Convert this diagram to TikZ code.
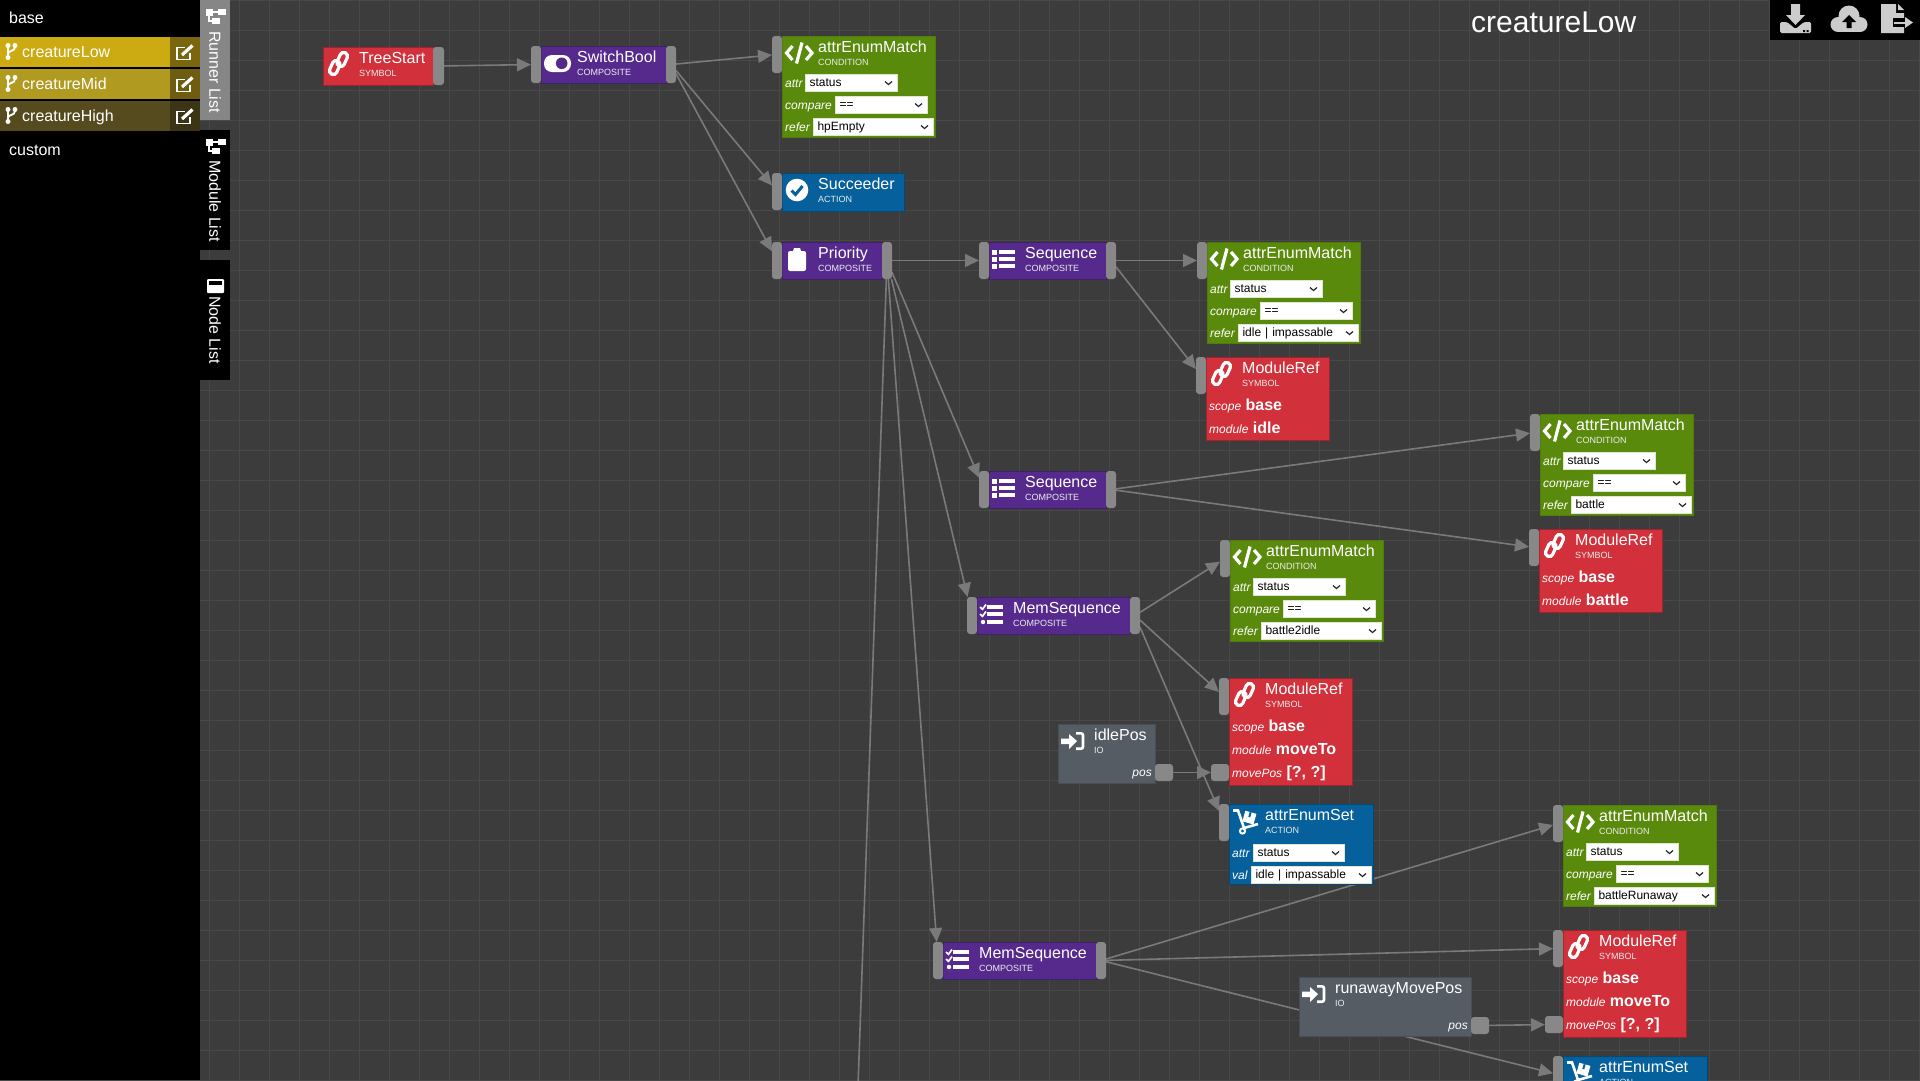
\documentclass[tikz,border=0pt]{standalone}
\usepackage{fontspec}
\setmainfont{Liberation Sans}
\usetikzlibrary{arrows.meta}
\pgfdeclarelayer{backdrop}
\pgfdeclarelayer{wires}
\pgfsetlayers{backdrop,wires,main}
\definecolor{canvasbg}{HTML}{3C3C3C}
\definecolor{gridcol}{HTML}{484848}
\definecolor{portcol}{HTML}{888888}
\definecolor{symred}{HTML}{D2303A}
\definecolor{condgreen}{HTML}{5A8A0C}
\definecolor{actblue}{HTML}{06609C}
\definecolor{comppurple}{HTML}{552A8C}
\definecolor{iogrey}{HTML}{555C64}
\definecolor{toolcol}{HTML}{CCCCCC}
\definecolor{rowlow}{HTML}{CCAA12}
\definecolor{rowlowedit}{HTML}{7A660F}
\definecolor{rowmid}{HTML}{B19A20}
\definecolor{rowmidedit}{HTML}{6E5C10}
\definecolor{rowhigh}{HTML}{554B1E}
\definecolor{rowhighedit}{HTML}{3C3515}
\newcommand{\px}[1]{\fontsize{#1}{#1}\selectfont}
\tikzset{
  body/.style={rectangle,anchor=north west,inner sep=0pt,outer sep=0pt,line width=1pt},
  nsym/.style={body,fill=symred,draw=symred!75!black},
  ncond/.style={body,fill=condgreen,draw=condgreen!90!black},
  nact/.style={body,fill=actblue,draw=actblue!75!black},
  ncomp/.style={body,fill=comppurple,draw=comppurple!75!black},
  nio/.style={body,fill=iogrey,draw=iogrey!85!black},
  titletext/.style={anchor=base west,inner sep=0pt,text=white,font=\px{16}},
  kindtext/.style={anchor=base west,inner sep=0pt,text=white!85!gray,font=\px{9}},
  fieldtext/.style={anchor=base west,inner sep=0pt,text=white,font=\itshape\px{12}},
  valuetext/.style={anchor=base west,inner sep=0pt,text=white,font=\bfseries\px{16}},
  selbox/.style={rectangle,anchor=north west,fill=white,draw=white!80!condgreen,line width=.8pt,
    inner xsep=4.5pt,inner ysep=0pt,outer sep=0pt,minimum height=17pt,align=left,
    text height=10pt,text depth=1.5pt,text=black,font=\px{12}},
  selmark/.style={draw=black!85,line width=1.2pt},
  portbox/.style={rectangle,fill=portcol,inner sep=0pt,outer sep=0pt,rounded corners=3pt},
  wire/.style={draw=portcol!90!black,line width=1.6pt,-{Triangle[length=14pt,width=13pt]}},
  sidetext/.style={anchor=base west,inner sep=0pt,text=white,font=\px{16}},
  iconline/.style={draw=white,line width=3.2pt},
  iconlink/.pic={
    \begin{scope}[shift={(15.5,16.5)},rotate=66]
      \draw[iconline,line width=3.2pt,rounded corners=3.6pt] (-12.5,-5.6) rectangle (2,2);
      \draw[iconline,line width=3.2pt,rounded corners=3.6pt] (-2,-2) rectangle (12.5,5.6);
    \end{scope}},
  iconcode/.pic={
    \draw[iconline,miter limit=4] (10.5,10) -- (4.5,17) -- (10.5,24);
    \draw[iconline,miter limit=4] (24,10) -- (30,17) -- (24,24);
    \draw[iconline] (20,6.5) -- (14.5,27.5);},
  iconcheck/.pic={
    \fill[white] (15,17) circle (11.3);
    \draw[draw=actblue,line width=3pt] (9.5,17.5) -- (13.5,21.5) -- (20.5,13);},
  icontoggle/.pic={
    \fill[white,rounded corners=8pt] (3,9) rectangle (30,26);
    \fill[comppurple] (20.7,17.3) circle (5.8);},
  iconclip/.pic={
    \fill[white,rounded corners=2pt] (6,9) rectangle (24,29);
    \fill[white] (11,9) -- (12,6) -- (18,6) -- (19,9) -- cycle;},
  iconlist/.pic={
    \foreach \ry in {10,17,24}{
      \fill[white] (3,\ry-2.5) rectangle ++(5,5);
      \fill[white] (9.5,\ry-1.7) rectangle ++(16.5,3.4);}},
  iconchecks/.pic={
    \foreach \ry in {10,17}{
      \draw[draw=white,line width=1.7pt] (3,\ry) -- (5.5,\ry+2.3) -- (9,\ry-2.5);
      \fill[white] (10,\ry-1.7) rectangle ++(16,3.4);}
    \fill[white] (6,25) circle (2.2);
    \fill[white] (10,23.3) rectangle ++(16,3.4);},
  iconin/.pic={
    \fill[white] (3,14.5) -- (11,14.5) -- (11,10) -- (19,17) -- (11,25) -- (11,20) -- (3,20) -- cycle;
    \draw[draw=white,line width=2.6pt,rounded corners=2pt] (18,9.3) -- (25,9.3) -- (25,24.7) -- (18,24.7);},
  icondolly/.pic={
    \draw[draw=white,line width=2.6pt] (4,6.5) -- (9,6.5) -- (15,24) -- (29,20);
    \fill[white,rotate around={-16:(20,14)}] (14.5,8) rectangle (26,19);
    \fill[actblue,rotate around={-16:(20,14)}] (19,8) rectangle (21,13);
    \draw[draw=white,line width=2pt,fill=actblue] (13.5,27) circle (2.6);},
  iconsitemap/.pic={
    \fill[white] (6,9) rectangle (13,16);
    \fill[white] (18,9) rectangle (26,15);
    \fill[white] (12,18) rectangle (20,24);
    \draw[draw=white,line width=1.6pt] (9,15) -- (9,21) -- (13,21);
    \draw[draw=white,line width=1.6pt] (13,12) -- (18,12);},
  iconwindow/.pic={
    \fill[white,rounded corners=1pt] (7,19) rectangle (24,33);
    \fill[black] (9,21) rectangle (22,25);},
  iconbranch/.pic={
    \draw[draw=white,line width=1.8pt] (8,10) -- (8,21);
    \draw[draw=white,line width=1.8pt] (15,11) .. controls (15,16) and (8,14) .. (8,18);
    \fill[white] (8,9.5) circle (2.5) (15,9.5) circle (2.5) (8,21.5) circle (2.5);},
  iconedit/.pic={
    \draw[draw=white,line width=1.8pt] (20,16) -- (20,22.5) -- (7,22.5) -- (7,10.5) -- (15,10.5);
    \draw[draw=white,line width=3.2pt] (12,18) -- (22.5,8.5);}
}
\newcommand{\bthead}[9]{%
  \node[#6,minimum width=#4pt,minimum height=#5pt] (#1) at (#2,#3) {};
  \pic at (#1.north west) {#7};
  \node[titletext] (#1-title) at ([shift={(36,16)}]#1.north west) {#8};
  \node[kindtext] (#1-kind) at ([shift={(36,29)}]#1.north west) {#9};
}
\newcommand{\inport}[1]{\node[portbox,anchor=north east,minimum width=10pt,minimum height=37pt] (#1-in) at (#1.north west) {};}
\newcommand{\outport}[1]{\node[portbox,anchor=north west,minimum width=10pt,minimum height=37pt] (#1-out) at (#1.north east) {};}
\newcommand{\selfield}[7]{%
  \node[fieldtext] (#1-#2-name) at ([shift={(3,#5+13)}]#1.north west) {#3};
  \node[selbox,text width=#6pt-9pt] (#1-#2) at ([shift={(#4,#5)}]#1.north west) {#7};
  \draw[selmark] ([shift={(-12,-1)}]#1-#2.east) -- ++(3.5,3) -- ++(3.5,-3);
}
\newcommand{\valfield}[5]{%
  \node[fieldtext] (#1-#2-name) at ([shift={(3,#3)}]#1.north west) {#4};
  \node[valuetext] (#1-#2) at ([xshift=4pt]#1-#2-name.base east) {#5};
}
\newcommand{\matchnode}[4]{%
  \bthead{#1}{#2}{#3}{153}{101}{ncond}{iconcode}{attrEnumMatch}{CONDITION}
  \inport{#1}
  \selfield{#1}{attr}{attr}{23}{38}{92}{status}
  \selfield{#1}{compare}{compare}{53}{60}{92}{==}
  \selfield{#1}{refer}{refer}{31}{82}{120}{#4}
}
\newcommand{\setnode}[4]{%
  \bthead{#1}{#2}{#3}{144}{80}{nact}{icondolly}{attrEnumSet}{ACTION}
  \inport{#1}
  \selfield{#1}{attr}{attr}{24}{40}{91}{status}
  \selfield{#1}{val}{val}{22}{62}{120}{#4}
}
\newcommand{\refnode}[5]{%
  \bthead{#1}{#2}{#3}{123}{#5}{nsym}{iconlink}{ModuleRef}{SYMBOL}
  \inport{#1}
  \valfield{#1}{scope}{53}{scope}{base}
  \valfield{#1}{module}{76}{module}{#4}
}
\newcommand{\moveport}[1]{%
  \valfield{#1}{movepos}{99}{movePos}{[?, ?]}
  \node[portbox,anchor=north east,minimum width=18pt,minimum height=17pt] (#1-pos) at ([yshift=-86pt]#1.north west) {};
}
\newcommand{\ionode}[5]{%
  \bthead{#1}{#2}{#3}{#4}{59}{nio}{iconin}{#5}{IO}
  \node[fieldtext,anchor=base east] (#1-posname) at ([shift={(-3,52)}]#1.north east) {pos};
  \node[portbox,anchor=north west,minimum width=18pt,minimum height=17pt] (#1-pos) at ([yshift=-40pt]#1.north east) {};
}
\newcommand{\compnode}[7]{%
  \bthead{#1}{#2}{#3}{#4}{37}{ncomp}{#5}{#6}{#7}
  \inport{#1}
  \outport{#1}
}
\newcommand{\runneritem}[5]{%
  \node[body,fill=#3,minimum width=170pt,minimum height=30pt] (#1) at (0,#2) {};
  \node[body,fill=#4,minimum width=30pt,minimum height=30pt] (#1-edit) at (170,#2) {};
  \pic at (0,#2-1) {iconbranch};
  \pic at (170,#2) {iconedit};
  \node[sidetext] (#1-text) at (22,#2+20.5) {#5};
}
\newcommand{\sidetab}[6]{%
  \node[body,fill=#3,minimum width=30pt,minimum height=120pt] (#1) at (200,#2) {};
  \pic at (#1.north west) {#5};
  \node[anchor=west,rotate=-90,inner sep=0pt,text=white,font=\px{16}] (#1-text) at (215,#2+#4) {#6};
}
\begin{document}
\begin{tikzpicture}[x=1pt,y=-1pt]
  \path[use as bounding box,clip] (0,0) rectangle (1920,1080);
  \begin{pgfonlayer}{backdrop}
    \fill[canvasbg] (0,0) rectangle (1920,1080);
    \foreach \gx in {29.5,59.5,...,1919.5} \draw[gridcol,line width=1pt] (\gx,0) -- (\gx,1080);
    \foreach \gy in {0.5,30.5,...,1080.5} \draw[gridcol,line width=1pt] (0,\gy) -- (1920,\gy);
  \end{pgfonlayer}
  \node[body,fill=black,minimum width=200pt,minimum height=1080pt] (sidebar) at (0,0) {};
  \node[sidetext] (basehead) at (9,23) {base};
  \runneritem{runlow}{37}{rowlow}{rowlowedit}{creatureLow}
  \runneritem{runmid}{69}{rowmid}{rowmidedit}{creatureMid}
  \runneritem{runhigh}{101}{rowhigh}{rowhighedit}{creatureHigh}
  \node[sidetext] (customhead) at (9,155) {custom};
  \sidetab{runnertab}{0}{gray!95}{31}{iconsitemap}{Runner List}
  \sidetab{moduletab}{130}{black}{30}{iconsitemap}{Module List}
  \sidetab{nodetab}{260}{black}{36}{iconwindow}{Node List}
  \node[anchor=base west,inner sep=0pt,text=white,font=\px{30}] (treename) at (1471,32) {creatureLow};
  \node[body,fill=black,minimum width=150pt,minimum height=40pt] (toolbar) at (1770,0) {};
  \fill[toolcol] (1791,4) rectangle (1800,15) -- (1805,15) -- (1795.5,25) -- (1786,15) -- (1791,15);
  \fill[toolcol,rounded corners=1.5pt] (1780,22) -- (1787,22) -- (1795.5,29) -- (1804,22) -- (1811,22) -- (1811,33) -- (1780,33) -- cycle;
  \fill[black] (1803,30) rectangle ++(2,2) (1806.5,30) rectangle ++(2,2);
  \fill[toolcol] (1849,16) circle (10.5);
  \fill[toolcol] (1838,24.5) circle (7.5);
  \fill[toolcol] (1860,24.5) circle (7.5);
  \fill[toolcol] (1838,21) rectangle (1860,32);
  \fill[black] (1849,15) -- (1856,22) -- (1851.5,22) -- (1851.5,28) -- (1846.5,28) -- (1846.5,22) -- (1842,22) -- cycle;
  \fill[toolcol] (1881,4) -- (1896,4) -- (1896,13) -- (1904,13) -- (1904,33) -- (1881,33) -- cycle;
  \fill[toolcol] (1898,4) -- (1904,10) -- (1898,10) -- cycle;
  \fill[black] (1893,18) rectangle (1906,27);
  \fill[toolcol] (1894,21.5) rectangle (1906,23.5);
  \fill[toolcol] (1905,17) -- (1913,22.5) -- (1905,28) -- cycle;
  \bthead{treestart}{323}{47}{110}{38}{nsym}{iconlink}{TreeStart}{SYMBOL}
  \node[portbox,anchor=north west,minimum width=11pt,minimum height=38pt] (treestart-out) at (treestart.north east) {};
  \compnode{switchbool}{541}{46}{125}{icontoggle}{SwitchBool}{COMPOSITE}
  \matchnode{matchhp}{782}{36}{hpEmpty}
  \bthead{succeeder}{782}{173}{122}{38}{nact}{iconcheck}{Succeeder}{ACTION}
  \inport{succeeder}
  \compnode{priority}{782}{242}{100}{iconclip}{Priority}{COMPOSITE}
  \compnode{seqidle}{989}{242}{117}{iconlist}{Sequence}{COMPOSITE}
  \matchnode{matchidle}{1207}{242}{idle | impassable}
  \refnode{refidle}{1206}{357}{idle}{83}
  \compnode{seqbattle}{989}{471}{117}{iconlist}{Sequence}{COMPOSITE}
  \matchnode{matchbattle}{1540}{414}{battle}
  \refnode{refbattle}{1539}{529}{battle}{83}
  \compnode{memidle}{977}{597}{153}{iconchecks}{MemSequence}{COMPOSITE}
  \matchnode{matchtoidle}{1230}{540}{battle2idle}
  \refnode{refmoveidle}{1229}{678}{moveTo}{107}
  \moveport{refmoveidle}
  \ionode{idlepos}{1058}{724}{97}{idlePos}
  \setnode{setidle}{1229}{804}{idle | impassable}
  \matchnode{matchrun}{1563}{805}{battleRunaway}
  \compnode{memrun}{943}{942}{153}{iconchecks}{MemSequence}{COMPOSITE}
  \refnode{refrun}{1563}{930}{moveTo}{107}
  \moveport{refrun}
  \ionode{runpos}{1299}{977}{172}{runawayMovePos}
  \bthead{setrun}{1563}{1056}{144}{80}{nact}{icondolly}{attrEnumSet}{ACTION}
  \inport{setrun}
  \coordinate (belowview) at (854,1200);
  \begin{pgfonlayer}{wires}
    \foreach \src/\dst in {treestart-out/switchbool-in,switchbool-out/matchhp-in,switchbool-out/succeeder-in,
      switchbool-out/priority-in,priority-out/seqidle-in,priority-out/seqbattle-in,priority-out/memidle-in,
      priority-out/memrun-in,priority-out/belowview,seqidle-out/matchidle-in,seqidle-out/refidle-in,
      seqbattle-out/matchbattle-in,seqbattle-out/refbattle-in,memidle-out/matchtoidle-in,memidle-out/refmoveidle-in,
      memidle-out/setidle-in,memrun-out/matchrun-in,memrun-out/refrun-in,memrun-out/setrun-in,
      idlepos-pos/refmoveidle-pos,runpos-pos/refrun-pos}
      \draw[wire] (\src) -- (\dst);
  \end{pgfonlayer}
\end{tikzpicture}
\end{document}
